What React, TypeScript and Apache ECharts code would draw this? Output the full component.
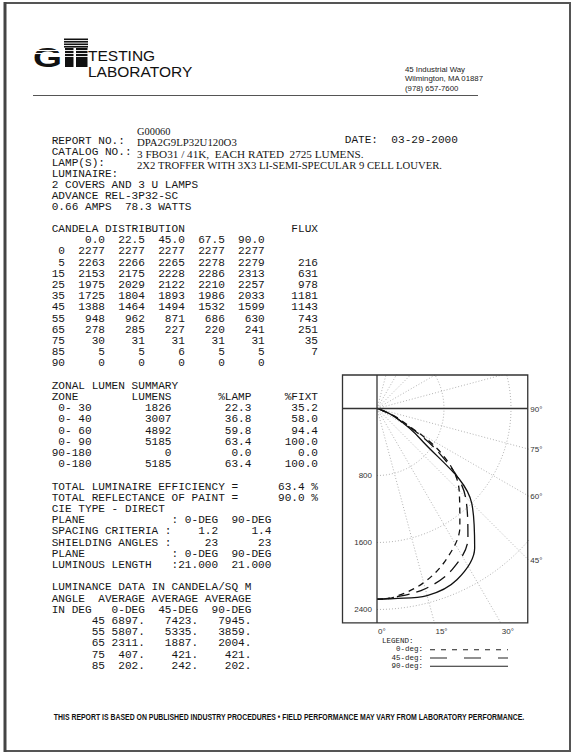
import React, { useEffect, useRef } from 'react';
import * as echarts from 'echarts';

const MONO = "'Liberation Mono', 'Courier New', monospace";
const SERIF = "'Liberation Serif', 'Times New Roman', serif";
const SANS = "'Liberation Sans', Arial, sans-serif";

// ---------- data ----------
const candelaAngles = [0, 5, 15, 25, 35, 45, 55, 65, 75, 85, 90];
const planeLabels = ['0.0', '22.5', '45.0', '67.5', '90.0'];
const cd0 = [2277, 2263, 2153, 1975, 1725, 1388, 948, 278, 30, 5, 0];
const cd22 = [2277, 2266, 2175, 2029, 1804, 1464, 962, 285, 31, 5, 0];
const cd45 = [2277, 2265, 2228, 2122, 1893, 1494, 871, 227, 31, 6, 0];
const cd67 = [2277, 2278, 2286, 2210, 1986, 1532, 686, 220, 31, 5, 0];
const cd90 = [2277, 2279, 2313, 2257, 2033, 1599, 630, 241, 31, 5, 0];
const fluxValues = ['', '216', '631', '978', '1181', '1143', '743', '251', '35', '7', ''];

const zones = [' 0- 30', ' 0- 40', ' 0- 60', ' 0- 90', '90-180', ' 0-180'];
const zoneLumens = [1826, 3007, 4892, 5185, 0, 5185];
const zoneLamp = ['22.3', '36.8', '59.8', '63.4', '0.0', '63.4'];
const zoneFixt = ['35.2', '58.0', '94.4', '100.0', '0.0', '100.0'];

const lumAngles = [45, 55, 65, 75, 85];
const lum0 = ['6897.', '5807.', '2311.', '407.', '202.'];
const lum45 = ['7423.', '5335.', '1887.', '421.', '242.'];
const lum90 = ['7945.', '3859.', '2004.', '421.', '202.'];

const candelaRings = [800, 1600, 2400];
const radialAngles = [15, 30, 45, 60, 75, 105, 120, 135, 150, 165];
const rightAngleTicks = [90, 75, 60, 45];
const bottomAngleTicks = [0, 15, 30];

// ---------- layout ----------
const ORIGIN_X = 377;
const BOX_TOP = 375;
const BOX_LEFT = 342.5;
const PX = 0.08375; // px per candela
const X_MAX = 1800;
const Y_MIN = -400;
const Y_MAX = 2560;
const GRID_W = X_MAX * PX;
const GRID_H = (Y_MAX - Y_MIN) * PX;
const ORIGIN_Y = BOX_TOP - Y_MIN * PX;
const BOX_RIGHT = ORIGIN_X + GRID_W;
const BOX_BOTTOM = BOX_TOP + GRID_H;

const MONO_X = 51.7;
const MONO_SIZE = 11.1;
const CW = MONO_SIZE * 0.6;
const BODY_Y0 = 229;
const LINE_H = 11.2;
const INK = '#161616';

const pad = (s: any, w: number) => String(s).padStart(w);
const pre = (s: string) =>
  s.replace(/ {2,}/g, (m) => ' ' + '\u00A0'.repeat(m.length - 1)).replace(/^ /, '\u00A0');

const rad = (d: number) => (d * Math.PI) / 180;
const polar = (r: number, deg: number) => [r * Math.sin(rad(deg)), r * Math.cos(rad(deg))];

function txt(text: string, x: number, y: number, font: string, o: any = {}) {
  return {
    type: 'text',
    x,
    y,
    silent: true,
    scaleX: o.scaleX ?? 1,
    style: {
      text,
      font,
      fill: o.fill || INK,
      textAlign: o.align || 'left',
      align: o.align || 'left',
      textVerticalAlign: 'middle',
      verticalAlign: 'middle',
    },
  };
}

function line(x1: number, y1: number, x2: number, y2: number, stroke: string, w: number, dash?: number[]) {
  return {
    type: 'line',
    silent: true,
    shape: { x1, y1, x2, y2 },
    style: { stroke, lineWidth: w, lineDash: dash },
  };
}

function rect(x: number, y: number, w: number, h: number, fill: string) {
  return { type: 'rect', silent: true, shape: { x, y, width: w, height: h }, style: { fill } };
}

function measure(text: string, font: string) {
  const c = document.createElement('canvas').getContext('2d')!;
  c.font = font;
  return c.measureText(text).width;
}

function bodyLines(): [number, string][] {
  const L: [number, string][] = [];
  L.push([0, 'CANDELA DISTRIBUTION' + pad('FLUX', 20)]);
  L.push([1, '  ' + planeLabels.map((p) => pad(p, 6)).join('')]);
  candelaAngles.forEach((a, i) => {
    L.push([
      2 + i,
      pad(a, 2) + pad(cd0[i], 6) + pad(cd22[i], 6) + pad(cd45[i], 6) + pad(cd67[i], 6) + pad(cd90[i], 6) + pad(fluxValues[i], 8),
    ]);
  });
  L.push([14, 'ZONAL LUMEN SUMMARY']);
  L.push([15, 'ZONE'.padEnd(12) + 'LUMENS' + pad('%LAMP', 12) + pad('%FIXT', 10)]);
  zones.forEach((z, i) => {
    L.push([16 + i, z + pad(zoneLumens[i], 12) + pad(zoneLamp[i], 12) + pad(zoneFixt[i], 10)]);
  });
  L.push([23, 'TOTAL LUMINAIRE EFFICIENCY =' + pad('63.4 %', 12)]);
  L.push([24, 'TOTAL REFLECTANCE OF PAINT =' + pad('90.0 %', 12)]);
  L.push([25, 'CIE TYPE - DIRECT']);
  L.push([26, 'PLANE'.padEnd(18) + ': 0-DEG  90-DEG']);
  L.push([27, 'SPACING CRITERIA :' + pad('1.2', 7) + pad('1.4', 8)]);
  L.push([28, 'SHIELDING ANGLES :' + pad('23', 7) + pad('23', 8)]);
  L.push([29, 'PLANE'.padEnd(18) + ': 0-DEG  90-DEG']);
  L.push([30, 'LUMINOUS LENGTH'.padEnd(18) + ':21.000  21.000']);
  L.push([32, 'LUMINANCE DATA IN CANDELA/SQ M']);
  L.push([33, 'ANGLE  AVERAGE AVERAGE AVERAGE']);
  L.push([34, 'IN DEG   0-DEG  45-DEG  90-DEG']);
  lumAngles.forEach((a, i) => {
    L.push([35 + i, pad(a, 8) + pad(lum0[i], 6) + pad(lum45[i], 8) + pad(lum90[i], 8)]);
  });
  return L;
}

function buildOption() {
  const monoFont = `${MONO_SIZE}px ${MONO}`;
  const g: any[] = [];

  // page frame
  g.push({ type: 'rect', silent: true, shape: { x: 5, y: 3, width: 565, height: 748 }, style: { fill: 'none', stroke: '#555', lineWidth: 2 } });
  g.push(line(5, 2, 5, 752, '#444', 3));

  // logo
  g.push({
    type: 'text', x: 33, y: 57.5, scaleX: 1.38, silent: true,
    style: { text: 'G', font: `bold 27px ${SANS}`, fill: '#111', textAlign: 'left', align: 'left', textVerticalAlign: 'middle', verticalAlign: 'middle' },
  });
  [50.5, 53.5].forEach((y) => g.push(line(33, y, 62, y, '#fff', 1.1)));
  [38.5, 41, 43.5, 46].forEach((y) => g.push(rect(64, y, 24, 1.6, '#111')));
  g.push(rect(65, 48, 8.5, 19, '#111'));
  g.push(rect(76, 48, 11.5, 19, '#111'));
  [50.5, 53.5, 56.5].forEach((y) => g.push(line(64, y, 88, y, '#fff', 0.9)));
  g.push(txt('TESTING', 88, 55, `15.5px ${SANS}`, { fill: '#111' }));
  g.push(txt('LABORATORY', 88, 71.5, `15.5px ${SANS}`, { fill: '#111' }));

  // address
  ['45 Industrial Way', 'Wilmington, MA 01887', '(978) 657-7600'].forEach((s, i) =>
    g.push(txt(s, 405, 69.3 + i * 9.5, `7.8px ${SANS}`, { fill: '#222' }))
  );
  g.push(line(33, 95.5, 478, 95.5, '#555', 1));

  // header block
  g.push(txt('G00060', 137, 131, `10.4px ${SERIF}`));
  g.push(txt('REPORT NO.:', MONO_X, 140.5, monoFont));
  g.push(txt('DPA2G9LP32U120O3', 137, 142, `10.8px ${SERIF}`));
  g.push(txt(pre('DATE:  03-29-2000'), MONO_X + 44 * CW, 139.5, monoFont));
  g.push(txt('CATALOG NO.:', MONO_X, 152, monoFont));
  g.push(txt(pre('3 FBO31 / 41K,  EACH RATED  2725 LUMENS.'), 137, 154, `11.2px ${SERIF}`));
  g.push(txt('LAMP(S):', MONO_X, 163, monoFont));
  g.push(txt('2X2 TROFFER WITH 3X3 LI-SEMI-SPECULAR 9 CELL LOUVER.', 137, 164.5, `10.7px ${SERIF}`));
  ['LUMINAIRE:', '2 COVERS AND 3 U LAMPS', 'ADVANCE REL-3P32-SC', '0.66 AMPS  78.3 WATTS'].forEach((s, i) =>
    g.push(txt(pre(s), MONO_X, BODY_Y0 + (i - 5) * LINE_H + 0.5, monoFont))
  );

  // body
  bodyLines().forEach(([k, s]) => g.push(txt(pre(s), MONO_X, BODY_Y0 + k * LINE_H, monoFont)));

  // plot frame
  g.push({ type: 'rect', silent: true, z: 10, shape: { x: BOX_LEFT, y: BOX_TOP, width: BOX_RIGHT - BOX_LEFT, height: BOX_BOTTOM - BOX_TOP }, style: { fill: 'none', stroke: '#333', lineWidth: 1.3 } });
  g.push({ ...line(ORIGIN_X, BOX_TOP, ORIGIN_X, BOX_BOTTOM, '#333', 1.3), z: 10 });
  g.push({ ...line(BOX_LEFT, ORIGIN_Y, BOX_RIGHT, ORIGIN_Y, '#333', 1.3), z: 10 });

  const smallFont = `8px ${SANS}`;
  rightAngleTicks.forEach((a) => {
    const y = a === 90 ? ORIGIN_Y : ORIGIN_Y + GRID_W / Math.tan(rad(a));
    g.push(txt(`${a}°`, BOX_RIGHT + 2.5, y + 1, smallFont, { fill: '#333' }));
  });
  bottomAngleTicks.forEach((a) => {
    const x = ORIGIN_X + (BOX_BOTTOM - ORIGIN_Y) * Math.tan(rad(a));
    g.push(txt(`${a}°`, x + 1, BOX_BOTTOM + 8.5, smallFont, { fill: '#333' }));
  });

  // legend
  const legFont = `7.5px ${MONO}`;
  g.push(txt('LEGEND:', 382, 641, legFont, { fill: '#222' }));
  const legend: [string, number[] | undefined][] = [
    ['0-deg:', [5, 6]],
    ['45-deg:', [17, 17]],
    ['90-deg:', undefined],
  ];
  legend.forEach(([name, dash], i) => {
    const y = 649.3 + i * 8.2;
    g.push(txt(name, 423, y, legFont, { fill: '#222', align: 'right' }));
    g.push(line(430, y + 0.5, 508, y + 0.5, '#222', 1.1, dash));
  });

  // footer
  const footer = 'THIS REPORT IS BASED ON PUBLISHED INDUSTRY PROCEDURES • FIELD PERFORMANCE MAY VARY FROM LABORATORY PERFORMANCE.';
  const footFont = `bold 8.3px ${SANS}`;
  const fw = measure(footer, footFont) || 560;
  g.push(txt(footer, 289, 717, footFont, { align: 'center', scaleX: 471 / fw, fill: '#111' }));

  // ---------- series ----------
  const gridStyle = { color: '#a0a0a0', width: 0.8, type: [1, 2] as any };
  const series: any[] = [];
  candelaRings.forEach((r) => {
    const pts: number[][] = [];
    for (let d = 0; d <= 180; d += 2) pts.push(polar(r, d));
    series.push({ type: 'line', data: pts, symbol: 'none', silent: true, lineStyle: gridStyle, z: 1 });
  });
  radialAngles.forEach((a) => {
    series.push({ type: 'line', data: [[0, 0], polar(5000, a)], symbol: 'none', silent: true, lineStyle: gridStyle, z: 1 });
  });
  const curves: [string, number[], any][] = [
    ['0-deg', cd0, [6, 5]],
    ['45-deg', cd45, [13, 7]],
    ['90-deg', cd90, 'solid'],
  ];
  curves.forEach(([name, vals, type]) => {
    series.push({
      name,
      type: 'line',
      data: candelaAngles.map((a, i) => polar(vals[i], a)),
      symbol: 'none',
      smooth: 0.35,
      silent: true,
      lineStyle: { color: '#111', width: 1.3, type },
      z: 5,
    });
  });

  return {
    animation: false,
    backgroundColor: '#ffffff',
    grid: { left: ORIGIN_X, top: BOX_TOP, width: GRID_W, height: GRID_H, containLabel: false, outerBoundsMode: 'none' },
    xAxis: { type: 'value', min: 0, max: X_MAX, show: false, splitLine: { show: false } },
    yAxis: {
      type: 'value',
      inverse: true,
      min: Y_MIN,
      max: Y_MAX,
      interval: 400,
      axisLine: { show: false },
      axisTick: { show: false },
      splitLine: { show: false },
      axisLabel: {
        margin: 5,
        fontSize: 8,
        fontFamily: SANS,
        color: '#333',
        showMaxLabel: false,
        formatter: (v: number) => (v > 0 && v % 800 === 0 ? String(v) : ''),
      },
    },
    series,
    graphic: { elements: g },
  };
}

export default function App() {
  const ref = useRef<HTMLDivElement>(null);
  useEffect(() => {
    document.body.style.margin = '0';
    const chart = echarts.init(ref.current!, null, { renderer: 'svg', width: 573, height: 752 });
    chart.setOption(buildOption() as any);
    return () => chart.dispose();
  }, []);
  return (
    <div
      ref={ref}
      style={{ position: 'absolute', left: 0, top: 0, width: 573, height: 752, background: '#fff' }}
    />
  );
}
